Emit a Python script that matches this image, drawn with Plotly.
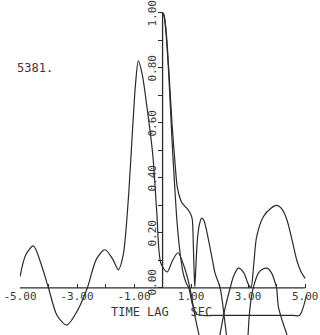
import plotly.graph_objects as go

# Cross-correlation, lag -5..5 s
a_lag = [-5.0, -4.8, -4.53, -4.27, -4.0, -3.7, -3.36, -3.0, -2.64, -2.32, -2.02, -1.75,
         -1.55, -1.38, -1.21, -1.05, -0.95, -0.85, -0.72, -0.55, -0.34, -0.2, -0.06,
         0.16, 0.35, 0.54, 0.75, 0.96, 1.15, 1.35, 1.6, 1.85, 2.02, 2.2, 2.37, 2.5,
         2.66, 2.85, 3.0, 3.1, 3.2, 3.3, 3.54, 3.8, 4.0, 4.2, 4.36, 4.55, 4.71, 4.85, 5.0]
a_val = [0.041, 0.12, 0.153, 0.09, 0.0, -0.10, -0.135, -0.085, 0.0, 0.105, 0.139, 0.105,
         0.066, 0.12, 0.31, 0.58, 0.74, 0.826, 0.78, 0.66, 0.48, 0.27, 0.09,
         0.058, 0.10, 0.128, 0.08, 0.0, -0.11, -0.2, -0.28, -0.26, -0.165, -0.07, 0.0, 0.045,
         0.072, 0.055, 0.015, 0.002, 0.09, 0.187, 0.26, 0.29, 0.30, 0.285, 0.248, 0.17, 0.10, 0.06, 0.035]

# First autocorrelation, lag 0..5 s
b_lag = [0.0, 0.05, 0.12, 0.22, 0.33, 0.44, 0.51, 0.6, 0.68, 0.8, 0.89, 0.98, 1.04, 1.08,
         1.11, 1.13, 1.16, 1.22, 1.3, 1.37, 1.45, 1.61, 1.75, 1.84, 2.02, 2.19, 2.35, 2.6,
         2.85, 2.97, 3.04, 3.12, 3.19, 3.36, 3.5, 3.66, 3.82, 3.93, 4.0, 4.06, 4.2, 4.36,
         4.6, 4.8, 5.0]
b_val = [1.0, 0.993, 0.94, 0.79, 0.60, 0.45, 0.37, 0.33, 0.31, 0.295, 0.285, 0.27, 0.25, 0.15,
         0.05, 0.005, 0.06, 0.175, 0.235, 0.254, 0.245, 0.175, 0.10, 0.054, 0.0, -0.128, -0.25, -0.32,
         -0.25, -0.2, -0.1, -0.03, 0.005, 0.054, 0.068, 0.072, 0.055, 0.025, 0.0, -0.068, -0.12, -0.17,
         -0.26, -0.3, -0.32]

# Second autocorrelation, lag 0..5 s (plotter floor at -0.10)
c_lag = [0.0, 0.05, 0.12, 0.22, 0.33, 0.42, 0.5, 0.6, 0.72, 0.82, 0.92, 1.05, 1.2, 1.4,
         1.8, 2.4, 3.0, 3.6, 4.2, 4.6, 4.8, 5.05]
c_val = [1.0, 0.99, 0.925, 0.77, 0.54, 0.38, 0.25, 0.14, 0.055, 0.02, 0.0, -0.06, -0.095, -0.1,
         -0.1, -0.1, -0.1, -0.1, -0.1, -0.1, -0.1, -0.025]

x_ticks = [-5, -4, -3, -2, -1, 0, 1, 2, 3, 4, 5]
x_ticktext = ["-5.00", "", "-3.00", "", "-1.00", "", "1.00", "", "3.00", "", "5.00"]
y_ticks = [0.0, 0.1, 0.2, 0.3, 0.4, 0.5, 0.6, 0.7, 0.8, 0.9, 1.0]
y_label_vals = [0.0, 0.2, 0.4, 0.6, 0.8, 1.0]
y_label_text = ["0.00", "0.20", "0.40", "0.60", "0.80", "1.00"]

INK = "#2b2b2b"
FONT = "DejaVu Sans Mono"
X_RANGE = [-5.0, 5.1]
Y_RANGE = [-0.171, 1.047]

fig = go.Figure()
for lag, val in [(a_lag, a_val), (b_lag, b_val), (c_lag, c_val)]:
    fig.add_trace(go.Scatter(x=lag, y=val, mode="lines",
                             line=dict(color=INK, width=1.2, shape="spline", smoothing=0.8),
                             showlegend=False, hoverinfo="skip"))

y0_frac = (0 - Y_RANGE[0]) / (Y_RANGE[1] - Y_RANGE[0])
x0_frac = (0 - X_RANGE[0]) / (X_RANGE[1] - X_RANGE[0])

fig.update_layout(
    width=320, height=335,
    margin=dict(l=20, r=12, t=0, b=0),
    paper_bgcolor="white", plot_bgcolor="white",
    font=dict(family=FONT, color="#3a3a3a", size=11),
    xaxis=dict(range=X_RANGE, anchor="free", position=y0_frac, showgrid=False,
               zeroline=False, showline=False, tickmode="array", tickvals=x_ticks,
               ticktext=x_ticktext, ticks="inside", ticklen=4, tickwidth=1.2,
               tickcolor=INK, tickfont=dict(family=FONT, size=11, color="#3a3a3a")),
    yaxis=dict(range=Y_RANGE, anchor="free", position=x0_frac, showgrid=False,
               zeroline=False, showline=False, tickmode="array", tickvals=y_ticks,
               ticks="outside", ticklen=5, tickwidth=1.2, tickcolor=INK,
               showticklabels=False),
    shapes=[
        dict(type="line", xref="x", yref="y", x0=-5, x1=5, y0=0, y1=0,
             line=dict(color=INK, width=1.3)),
        dict(type="line", xref="x", yref="y", x0=0, x1=0, y0=0, y1=1.0,
             line=dict(color=INK, width=1.3)),
    ],
)

for v, t in zip(y_label_vals, y_label_text):
    fig.add_annotation(x=0, y=v, xref="x", yref="y", text=t, showarrow=False,
                       textangle=-90, xshift=-10, yshift=6 if v == 0 else 0,
                       font=dict(family=FONT, size=11, color="#3a3a3a"))

fig.add_annotation(x=-0.05, y=-0.087, xref="x", yref="y", text="TIME LAG   SEC",
                   showarrow=False, font=dict(family=FONT, size=12, color="#3a3a3a"))
fig.add_annotation(x=-4.47, y=0.80, xref="x", yref="y", text="5381.",
                   showarrow=False, font=dict(family=FONT, size=12, color="#3a3a3a"))

fig.write_html("out.html")
